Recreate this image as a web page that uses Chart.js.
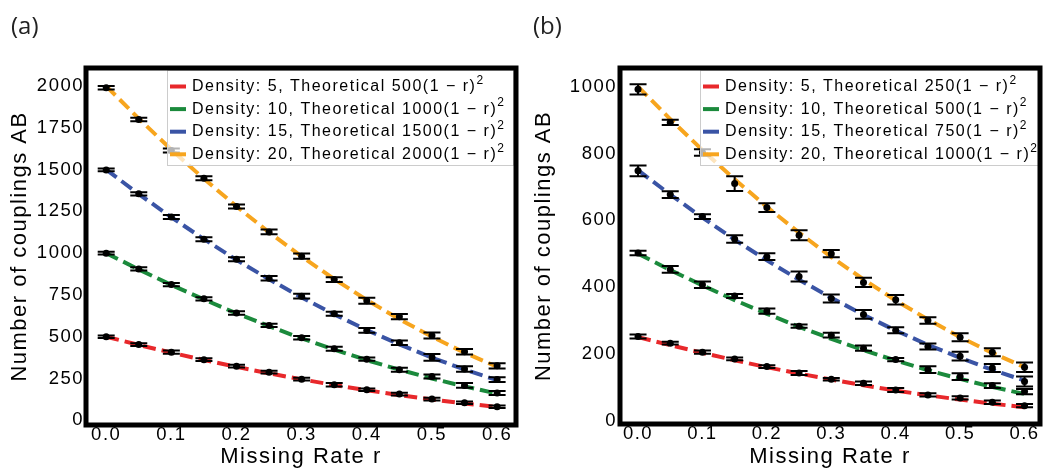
<!DOCTYPE html>
<html>
<head>
<meta charset="utf-8">
<script src="https://cdn.jsdelivr.net/npm/chart.js@4.4.1/dist/chart.umd.min.js"></script>
<style>
    html, body { margin: 0; padding: 0; background: #fff; }
    #wrap { position: relative; width: 1048px; height: 468px; overflow: hidden; }
    .panel { position: absolute; top: 0; width: 524px; height: 468px; }
    .tag { position: absolute; top: 13px; font-family: "Open Sans", sans-serif; font-size: 24px; color: #222; line-height: 1; }
</style>
</head>
<body>
<div id="wrap">
    <div class="panel" style="left:0"><canvas id="chartA"></canvas></div>
    <div class="panel" style="left:524px"><canvas id="chartB"></canvas></div>
    <div class="tag" style="left:11px">(a)</div>
    <div class="tag" style="left:533px">(b)</div>
</div>
<script>
// missing rate r for every point
const rates = [0, 0.05, 0.1, 0.15, 0.2, 0.25, 0.3, 0.35, 0.4, 0.45, 0.5, 0.55, 0.6];
const xTicks = [0, 0.1, 0.2, 0.3, 0.4, 0.5, 0.6];
const yTicksA = [0, 250, 500, 750, 1000, 1250, 1500, 1750, 2000];
const yTicksB = [0, 200, 400, 600, 800, 1000];

// panel (a) theoretical curves
const theoryA5  = [500, 451, 405, 361, 320, 281, 245, 211, 180, 151, 125, 101, 80];
const theoryA10 = [1000, 903, 810, 723, 640, 563, 490, 423, 360, 303, 250, 203, 160];
const theoryA15 = [1500, 1354, 1215, 1084, 960, 844, 735, 634, 540, 454, 375, 304, 240];
const theoryA20 = [2000, 1805, 1620, 1445, 1280, 1125, 980, 845, 720, 605, 500, 405, 320];

// panel (a) measured means and errors
const measA5  = [500, 453, 408, 363, 324, 288, 246, 213, 183, 157, 127, 105, 81];
const errA5   = [8, 8, 10, 8, 8, 8, 8, 10, 8, 8, 8, 8, 8];
const measA10 = [1000, 906, 812, 727, 642, 568, 494, 428, 366, 302, 262, 209, 163];
const errA10  = [8, 10, 10, 10, 10, 10, 10, 12, 10, 12, 12, 14, 12];
const measA15 = [1498, 1355, 1216, 1084, 964, 850, 743, 637, 538, 464, 377, 307, 244];
const errA15  = [8, 10, 12, 12, 12, 14, 14, 12, 14, 14, 20, 16, 14];
const measA20 = [1990, 1800, 1615, 1449, 1280, 1127, 982, 842, 716, 620, 507, 410, 326];
const errA20  = [10, 10, 12, 12, 12, 14, 16, 14, 18, 16, 18, 16, 16];

// panel (b) theoretical curves
const theoryB5  = [250, 226, 203, 181, 160, 141, 123, 106, 90, 76, 63, 51, 40];
const theoryB10 = [500, 451, 405, 361, 320, 281, 245, 211, 180, 151, 125, 101, 80];
const theoryB15 = [750, 677, 608, 542, 480, 422, 368, 317, 270, 227, 188, 152, 120];
const theoryB20 = [1000, 903, 810, 723, 640, 563, 490, 423, 360, 303, 250, 203, 160];

// panel (b) measured means and errors
const measB5  = [252, 232, 205, 185, 162, 143, 124, 112, 92, 77, 68, 55, 45];
const errB5   = [6, 4, 5, 4, 4, 6, 4, 5, 6, 5, 5, 5, 5];
const measB10 = [502, 453, 407, 373, 328, 283, 256, 217, 183, 153, 132, 105, 87];
const errB10  = [7, 10, 10, 6, 8, 5, 7, 8, 5, 10, 10, 7, 8];
const measB15 = [748, 677, 611, 544, 491, 432, 366, 318, 271, 222, 193, 158, 117];
const errB15  = [16, 10, 7, 11, 10, 15, 12, 13, 9, 9, 13, 12, 15];
const measB20 = [992, 893, 803, 710, 638, 555, 500, 414, 362, 300, 250, 205, 160];
const errB20  = [15, 8, 10, 22, 13, 15, 11, 14, 14, 10, 12, 12, 14];

// legend text; the squared exponent is drawn as a raised "2"
const legendA = [
    'Density: 5, Theoretical 500(1 − r)',
    'Density: 10, Theoretical 1000(1 − r)',
    'Density: 15, Theoretical 1500(1 − r)',
    'Density: 20, Theoretical 2000(1 − r)'
];
const legendB = [
    'Density: 5, Theoretical 250(1 − r)',
    'Density: 10, Theoretical 500(1 − r)',
    'Density: 15, Theoretical 750(1 − r)',
    'Density: 20, Theoretical 1000(1 − r)'
];

const lineColors = ['#e8282b', '#1b8a3c', '#3a54a5', '#f7a51e'];
const FONT = '"Liberation Sans", Arial, sans-serif';

function toPoints(values) {
    return values.map(function(v, i) { return { x: rates[i], y: v }; });
}

// frame, error bars and the in-plot legend
const panelPlugin = {
    id: 'panelPlugin',
    beforeDraw: function(chart) {
        chart.ctx.letterSpacing = '1.5px';
    },
    beforeDatasetDraw: function(chart, args) {
        const ds = chart.data.datasets[args.index];
        if (!ds.err) return;
        const ctx = chart.ctx;
        const xs = chart.scales.x, ys = chart.scales.y;
        ctx.save();
        ctx.strokeStyle = '#000';
        ctx.lineWidth = 2;
        ds.data.forEach(function(p, i) {
            const px = xs.getPixelForValue(p.x);
            const top = ys.getPixelForValue(p.y + ds.err[i]);
            const bot = ys.getPixelForValue(p.y - ds.err[i]);
            ctx.beginPath();
            ctx.moveTo(px, top); ctx.lineTo(px, bot);
            ctx.moveTo(px - 8.5, top); ctx.lineTo(px + 8.5, top);
            ctx.moveTo(px - 8.5, bot); ctx.lineTo(px + 8.5, bot);
            ctx.stroke();
        });
        ctx.restore();
    },
    afterDatasetsDraw: function(chart, args, opts) {
        const ctx = chart.ctx;
        const a = chart.chartArea;
        // legend box
        ctx.save();
        const bx = opts.box[0], by = opts.box[1], bw = opts.box[2], bh = opts.box[3];
        ctx.fillStyle = 'rgba(255,255,255,0.7)';
        ctx.fillRect(bx, by, bw, bh);
        ctx.strokeStyle = '#cccccc';
        ctx.lineWidth = 1;
        ctx.strokeRect(bx + 0.5, by + 0.5, bw - 1, bh - 1);
        ctx.letterSpacing = '1.5px';
        ctx.textBaseline = 'middle';
        opts.labels.forEach(function(label, i) {
            const cy = by + 16.5 + i * 22.6;
            ctx.fillStyle = lineColors[i];
            ctx.fillRect(bx + 3, cy - 2, 16, 4);
            ctx.fillStyle = '#000';
            ctx.font = '16px ' + FONT;
            ctx.fillText(label, bx + 25, cy);
            const w = ctx.measureText(label).width;
            ctx.font = '12px ' + FONT;
            ctx.fillText('2', bx + 25 + w, cy - 6);
        });
        // thick frame
        ctx.strokeStyle = '#000';
        ctx.lineWidth = 5;
        ctx.strokeRect(a.left, a.top, a.right - a.left, a.bottom - a.top);
        ctx.restore();
    }
};

function makePanel(id, p) {
    const datasets = [];
    p.theory.forEach(function(vals, i) {
        datasets.push({
            type: 'line',
            data: toPoints(vals),
            borderColor: lineColors[i],
            borderWidth: 4,
            borderDash: [13, 6],
            pointRadius: 0,
            tension: 0,
            fill: false,
            order: 2
        });
    });
    p.meas.forEach(function(vals, i) {
        datasets.push({
            type: 'scatter',
            data: toPoints(vals),
            err: p.err[i],
            backgroundColor: '#000',
            borderWidth: 0,
            pointRadius: 3.5,
            order: 1
        });
    });

    new Chart(document.getElementById(id), {
        type: 'scatter',
        data: { datasets: datasets },
        plugins: [panelPlugin],
        options: {
            responsive: true,
            maintainAspectRatio: false,
            animation: false,
            layout: { padding: { top: 68, right: 8, left: 0, bottom: 0 } },
            plugins: {
                legend: { display: false },
                tooltip: { enabled: false },
                panelPlugin: { box: p.box, labels: p.labels }
            },
            scales: {
                x: {
                    type: 'linear',
                    min: p.xMin,
                    max: p.xMax,
                    grid: { display: false, drawTicks: false },
                    border: { display: false },
                    afterBuildTicks: function(scale) {
                        scale.ticks = xTicks.map(function(v) { return { value: v }; });
                    },
                    afterFit: function(scale) { scale.height = p.xHeight; },
                    ticks: {
                        padding: -1,
                        color: '#000',
                        font: { family: FONT, size: 18.5 },
                        maxRotation: 0,
                        callback: function(v) { return v.toFixed(1); }
                    },
                    title: {
                        display: true,
                        text: 'Missing Rate r',
                        color: '#000',
                        font: { family: FONT, size: 22, lineHeight: 1 },
                        padding: { top: 0, bottom: 0 }
                    }
                },
                y: {
                    type: 'linear',
                    min: p.yMin,
                    max: p.yMax,
                    grid: { display: false, drawTicks: false },
                    border: { display: false },
                    afterBuildTicks: function(scale) {
                        scale.ticks = p.yTicks.map(function(v) { return { value: v }; });
                    },
                    afterFit: function(scale) { scale.width = p.yWidth; },
                    ticks: {
                        padding: p.yPad,
                        color: '#000',
                        font: { family: FONT, size: 18.5 },
                        callback: function(v) { return String(v); }
                    },
                    title: {
                        display: true,
                        text: 'Number of couplings AB',
                        color: '#000',
                        font: { family: FONT, size: 22, lineHeight: 1 },
                        padding: { top: 9, bottom: 0 }
                    }
                }
            }
        }
    });
}

makePanel('chartA', {
    theory: [theoryA5, theoryA10, theoryA15, theoryA20],
    meas: [measA5, measA10, measA15, measA20],
    err: [errA5, errA10, errA15, errA20],
    labels: legendA,
    yTicks: yTicksA,
    xMin: -0.031, xMax: 0.629,
    yMin: -28, yMax: 2108,
    yWidth: 86, xHeight: 43, yPad: 2,
    box: [167, 70, 347, 96]
});

makePanel('chartB', {
    theory: [theoryB5, theoryB10, theoryB15, theoryB20],
    meas: [measB5, measB10, measB15, measB20],
    err: [errB5, errB10, errB15, errB20],
    labels: legendB,
    yTicks: yTicksB,
    xMin: -0.028, xMax: 0.624,
    yMin: -10, yMax: 1056,
    yWidth: 96, xHeight: 44, yPad: 3,
    box: [176, 70, 340, 96]
});
</script>
</body>
</html>
